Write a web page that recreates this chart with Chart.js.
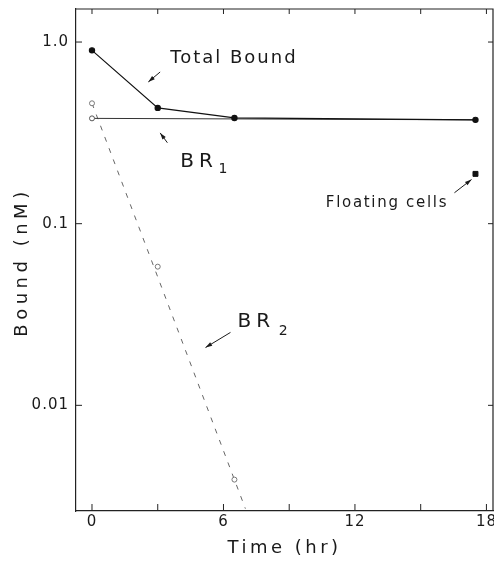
<!DOCTYPE html>
<html>
<head>
<meta charset="utf-8">
<script src="https://cdn.jsdelivr.net/npm/chart.js@4.4.0/dist/chart.umd.min.js"></script>
<style>
  html, body { margin: 0; padding: 0; background: #fff; }
  #wrap { width: 494px; height: 561px; }
</style>
</head>
<body>
<div id="wrap"><canvas id="chart" width="494" height="561"></canvas></div>
<script>
// Bound ligand (nM) vs time (hr)
const totalTimes = [0, 3, 6.5, 17.5];
const totalBound = [0.90, 0.434, 0.382, 0.373];

const br1Times = [0, 17.5];
const br1Bound = [0.38, 0.373];

const br2Times = [0, 3, 6.5];
const br2Bound = [0.46, 0.058, 0.0039];

// dashed BR2 fit, runs on to the bottom of the frame
const br2FitTimes = [0, 7.0];
const br2FitBound = [0.46, 0.0027];

const floatTimes = [17.5];
const floatBound = [0.188];

const xTicks = [0, 3, 6, 9, 12, 15, 18];
const xLabels = { 0: "0", 6: "6", 12: "12", 18: "18" };
const yTicks = [0.01, 0.1, 1];
const yLabels = { 0.01: "0.01", 0.1: "0.1", 1: "1.0" };

const FONT = "'DejaVu Sans', sans-serif";
const INK = "#1a1a1a";

function toPoints(xs, ys) {
  return xs.map((x, i) => ({ x: x, y: ys[i] }));
}

// text labels and arrows, placed in data units
const notes = [
  { text: "Total Bound", x: 3.57, y: 0.817, size: 18, spacing: 2 },
  { text: "BR", x: 4.03, y: 0.219, size: 20, spacing: 5 },
  { text: "1", x: 5.77, y: 0.198, size: 14, spacing: 0 },
  { text: "BR", x: 6.64, y: 0.029, size: 20, spacing: 5 },
  { text: "2", x: 8.52, y: 0.0255, size: 14, spacing: 0 },
  { text: "Floating cells", x: 10.67, y: 0.129, size: 15, spacing: 1.7 },
];
const arrows = [
  { from: [3.11, 0.684], to: [2.57, 0.603] },
  { from: [3.44, 0.279], to: [3.11, 0.316] },
  { from: [6.32, 0.0252], to: [5.18, 0.0208] },
  { from: [16.54, 0.148], to: [17.32, 0.175] },
];

const framePlugin = {
  id: "frame",
  beforeDraw(chart) {
    chart.ctx.letterSpacing = "1px";
  },
  afterDraw(chart) {
    const ctx = chart.ctx;
    const { left, right, top, bottom } = chart.chartArea;
    const sx = chart.scales.x;
    const sy = chart.scales.y;
    ctx.save();
    ctx.strokeStyle = "#222";
    ctx.lineWidth = 1.2;
    ctx.beginPath();
    ctx.moveTo(left, top);
    ctx.lineTo(right, top);
    ctx.lineTo(right, bottom);
    ctx.stroke();

    // inward tick marks
    ctx.lineWidth = 1;
    ctx.beginPath();
    xTicks.forEach((v) => {
      const p = sx.getPixelForValue(v);
      ctx.moveTo(p, bottom);
      ctx.lineTo(p, bottom - 7);
      ctx.moveTo(p, top);
      ctx.lineTo(p, top + 5);
    });
    yTicks.forEach((v) => {
      const p = sy.getPixelForValue(v);
      ctx.moveTo(left, p);
      ctx.lineTo(left + 6, p);
      ctx.moveTo(right, p);
      ctx.lineTo(right - 5, p);
    });
    ctx.stroke();

    // axis titles
    ctx.fillStyle = INK;
    ctx.font = "18px " + FONT;
    ctx.textBaseline = "middle";
    ctx.textAlign = "center";
    ctx.letterSpacing = "3.5px";
    ctx.fillText("Time (hr)", (left + right) / 2, 548);
    ctx.save();
    ctx.translate(22, (top + bottom) / 2 + 2);
    ctx.rotate(-Math.PI / 2);
    ctx.letterSpacing = "4.5px";
    ctx.fillText("Bound (nM)", 0, 0);
    ctx.restore();

    // annotations
    ctx.textAlign = "left";
    notes.forEach((n) => {
      ctx.font = n.size + "px " + FONT;
      ctx.letterSpacing = n.spacing + "px";
      ctx.fillText(n.text, sx.getPixelForValue(n.x), sy.getPixelForValue(n.y));
    });
    ctx.letterSpacing = "0px";

    ctx.strokeStyle = INK;
    ctx.lineWidth = 1;
    arrows.forEach((a) => {
      const x0 = sx.getPixelForValue(a.from[0]);
      const y0 = sy.getPixelForValue(a.from[1]);
      const x1 = sx.getPixelForValue(a.to[0]);
      const y1 = sy.getPixelForValue(a.to[1]);
      const ang = Math.atan2(y1 - y0, x1 - x0);
      ctx.beginPath();
      ctx.moveTo(x0, y0);
      ctx.lineTo(x1, y1);
      ctx.stroke();
      ctx.beginPath();
      ctx.moveTo(x1, y1);
      ctx.lineTo(x1 - 7 * Math.cos(ang - 0.3), y1 - 7 * Math.sin(ang - 0.3));
      ctx.lineTo(x1 - 7 * Math.cos(ang + 0.3), y1 - 7 * Math.sin(ang + 0.3));
      ctx.closePath();
      ctx.fill();
    });
    ctx.restore();
  },
};

new Chart(document.getElementById("chart"), {
  type: "scatter",
  data: {
    datasets: [
      {
        label: "Total Bound",
        data: toPoints(totalTimes, totalBound),
        showLine: true,
        borderColor: "#111",
        borderWidth: 1.2,
        pointRadius: 2.6,
        pointBackgroundColor: "#111",
        pointBorderColor: "#111",
        order: 1,
      },
      {
        label: "BR1",
        data: toPoints(br1Times, br1Bound),
        showLine: true,
        borderColor: "#333",
        borderWidth: 1,
        pointRadius: [2.5, 0],
        pointBackgroundColor: "#fff",
        pointBorderColor: "#555",
        order: 3,
      },
      {
        label: "BR2 fit",
        data: toPoints(br2FitTimes, br2FitBound),
        showLine: true,
        borderColor: "#666",
        borderWidth: 1,
        borderDash: [5, 7],
        pointRadius: 0,
        order: 5,
      },
      {
        label: "BR2",
        data: toPoints(br2Times, br2Bound),
        showLine: false,
        pointRadius: 2.5,
        pointBackgroundColor: "#fff",
        pointBorderColor: "#777",
        pointBorderWidth: 1,
        order: 4,
      },
      {
        label: "Floating cells",
        data: toPoints(floatTimes, floatBound),
        pointStyle: "rect",
        pointRadius: 3.5,
        pointBackgroundColor: "#111",
        pointBorderColor: "#111",
        order: 0,
      },
    ],
  },
  options: {
    responsive: false,
    animation: false,
    layout: { autoPadding: false, padding: { top: 9, right: 1, left: 0, bottom: 0 } },
    plugins: {
      legend: { display: false },
      tooltip: { enabled: false },
    },
    scales: {
      x: {
        type: "linear",
        min: -0.73,
        max: 18.3,
        afterBuildTicks: (s) => {
          s.ticks = xTicks.map((v) => ({ value: v }));
        },
        afterFit: (s) => {
          s.height = 50;
          s.paddingLeft = 0;
          s.paddingRight = 0;
        },
        grid: { display: false, drawTicks: false },
        border: { display: true, color: "#222", width: 1.2 },
        ticks: {
          autoSkip: false,
          maxRotation: 0,
          padding: 2,
          color: INK,
          font: { family: FONT, size: 15 },
          callback: (v) => xLabels[v] ?? "",
        },
      },
      y: {
        type: "logarithmic",
        min: 0.00262,
        max: 1.52,
        afterBuildTicks: (s) => {
          s.ticks = yTicks.map((v) => ({ value: v }));
        },
        afterFit: (s) => {
          s.width = 76;
          s.paddingTop = 0;
          s.paddingBottom = 0;
        },
        grid: { display: false, drawTicks: false },
        border: { display: true, color: "#222", width: 1.2 },
        ticks: {
          autoSkip: false,
          padding: 7,
          color: INK,
          font: { family: FONT, size: 15 },
          callback: (v) => yLabels[v] ?? "",
        },
      },
    },
  },
  plugins: [framePlugin],
});
</script>
</body>
</html>
